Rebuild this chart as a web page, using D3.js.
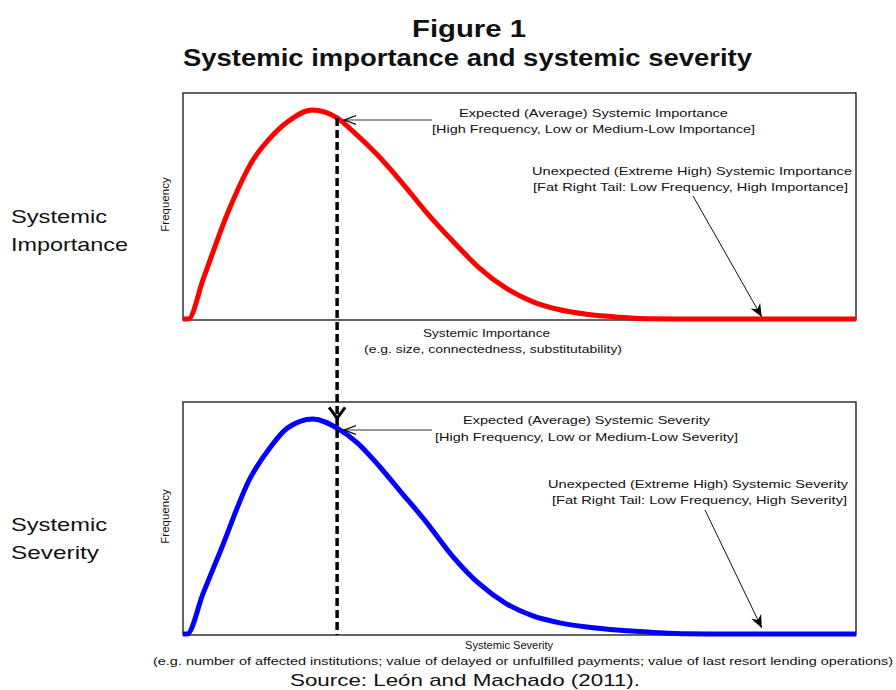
<!DOCTYPE html>
<html>
<head>
<meta charset="utf-8">
<script src="https://cdn.jsdelivr.net/npm/d3@7"></script>
<style>
  body { margin: 0; background: #fff; }
  svg { display: block; font-family: "Liberation Sans", Arial, sans-serif; }
</style>
</head>
<body>
<div id="chart"></div>
<script>
// Curve: x on a 0-100 scale, frequency 0-1 (share of panel height)
const importanceX    = [0, 0.8, 3.0, 6.7, 10.4, 12.9, 15.5, 19.2, 22.9, 25.3, 28.8, 32.4, 36, 40, 44, 48, 52, 56, 60, 65, 70, 75, 80, 100];
const importanceFreq = [0, 0, 0.18, 0.476, 0.705, 0.80, 0.872, 0.925, 0.89, 0.83, 0.73, 0.61, 0.48, 0.35, 0.23, 0.14, 0.08, 0.045, 0.025, 0.012, 0.005, 0.001, 0, 0];

const severityX    = [0, 0.6, 3.0, 5.5, 10.0, 12.9, 15.5, 19.3, 22.9, 25.9, 29.3, 32.2, 36, 40, 44, 48, 52, 56, 60, 65, 70, 75, 80, 85, 100];
const severityFreq = [0, 0, 0.18, 0.356, 0.674, 0.803, 0.888, 0.927, 0.888, 0.825, 0.72, 0.62, 0.49, 0.34, 0.22, 0.135, 0.082, 0.052, 0.034, 0.02, 0.011, 0.005, 0.002, 0, 0];

// expected value (mean) and the tail point that the arrows refer to
const expectedX = 22.9;
const tailX = 86;

const titleLines = ['Figure 1', 'Systemic importance and systemic severity'];
const importanceNotes = {
    expected: ['Expected (Average) Systemic Importance', '[High Frequency, Low or Medium-Low Importance]'],
    tail: ['Unexpected (Extreme High) Systemic Importance', '[Fat Right Tail: Low Frequency, High Importance]'],
    axis: ['Systemic Importance', '(e.g. size, connectedness, substitutability)'],
    side: ['Systemic', 'Importance']
};
const severityNotes = {
    expected: ['Expected (Average) Systemic Severity', '[High Frequency, Low or Medium-Low Severity]'],
    tail: ['Unexpected (Extreme High) Systemic Severity', '[Fat Right Tail: Low Frequency, High Severity]'],
    axis: ['Systemic Severity', '(e.g. number of affected institutions; value of delayed or unfulfilled payments; value of last resort lending operations)'],
    side: ['Systemic', 'Severity']
};
const sourceNote = 'Source: León and Machado (2011).';

const width = 896, height = 690;

const svg = d3.select('#chart')
    .append('svg')
    .attr('width', width)
    .attr('height', height);

const defs = svg.append('defs');
defs.append('marker')
    .attr('id', 'openHead')
    .attr('viewBox', '-12 -6 14 12')
    .attr('refX', 0).attr('refY', 0)
    .attr('markerWidth', 14).attr('markerHeight', 12)
    .attr('markerUnits', 'userSpaceOnUse')
    .attr('orient', 'auto')
    .append('path')
    .attr('d', 'M-12,-4.5 L0,0 L-12,4.5')
    .attr('fill', 'none')
    .attr('stroke', '#000')
    .attr('stroke-width', 1.2);
defs.append('marker')
    .attr('id', 'solidHead')
    .attr('viewBox', '-13 -6 14 12')
    .attr('refX', 0).attr('refY', 0)
    .attr('markerWidth', 14).attr('markerHeight', 12)
    .attr('markerUnits', 'userSpaceOnUse')
    .attr('orient', 'auto')
    .append('path')
    .attr('d', 'M0,0 L-13,-5.5 L-9,0 L-13,5.5 Z')
    .attr('fill', '#000');

const x = d3.scaleLinear().domain([0, 100]).range([183, 856]);
const yTop = d3.scaleLinear().domain([0, 1]).range([320, 93]);
const yBot = d3.scaleLinear().domain([0, 1]).range([635, 402]);

// helper: text stretched to the width it has in the picture
function label(txt, left, baseline, size, len, opts = {}) {
    return svg.append('text')
        .attr('x', left)
        .attr('y', baseline)
        .attr('font-size', size + 'px')
        .attr('font-weight', opts.bold ? 'bold' : 'normal')
        .attr('fill', '#111')
        .attr('textLength', len)
        .attr('lengthAdjust', 'spacingAndGlyphs')
        .text(txt);
}

// Title
label(titleLines[0], 412, 37, 23, 114, {bold: true});
label(titleLines[1], 183, 66, 23, 569, {bold: true});

function panel(y, xs, freqs, color, notes, pos) {
    // frame
    svg.append('rect')
        .attr('x', x(0))
        .attr('y', y(1))
        .attr('width', x(100) - x(0))
        .attr('height', y(0) - y(1))
        .attr('fill', 'none')
        .attr('stroke', '#111')
        .attr('stroke-width', 1.3);

    const pts = xs.map((v, i) => ({x: v, f: freqs[i]}));
    const line = d3.line()
        .x(d => x(d.x))
        .y(d => Math.min(y(d.f), y(0) - 1))
        .curve(d3.curveMonotoneX);

    svg.append('path')
        .datum(pts)
        .attr('d', line)
        .attr('fill', 'none')
        .attr('stroke', color)
        .attr('stroke-width', 5)
        .attr('stroke-linejoin', 'round');

    // expected-value arrow
    const fExp = freqs[xs.indexOf(expectedX)];
    svg.append('line')
        .attr('x1', x(37))
        .attr('x2', x(expectedX) + 7)
        .attr('y1', pos.expArrowY)
        .attr('y2', pos.expArrowY)
        .attr('stroke', '#333')
        .attr('stroke-width', 1)
        .attr('marker-end', 'url(#openHead)');

    label(notes.expected[0], pos.exp[0][0], pos.exp[0][1], 11.5, pos.exp[0][2]);
    label(notes.expected[1], pos.exp[1][0], pos.exp[1][1], 11.5, pos.exp[1][2]);

    // tail arrow
    svg.append('line')
        .attr('x1', pos.tailFrom[0])
        .attr('y1', pos.tailFrom[1])
        .attr('x2', x(tailX))
        .attr('y2', pos.tailTipY)
        .attr('stroke', '#111')
        .attr('stroke-width', 1)
        .attr('marker-end', 'url(#solidHead)');

    label(notes.tail[0], pos.tail[0][0], pos.tail[0][1], 11.5, pos.tail[0][2]);
    label(notes.tail[1], pos.tail[1][0], pos.tail[1][1], 11.5, pos.tail[1][2]);

    // x label
    label(notes.axis[0], pos.axis[0][0], pos.axis[0][1], 11.5, pos.axis[0][2]);
    label(notes.axis[1], pos.axis[1][0], pos.axis[1][1], 11.5, pos.axis[1][2]);

    // y label
    const cy = (y(0) + y(1)) / 2 - 2;
    svg.append('text')
        .attr('transform', `translate(169,${cy}) rotate(-90)`)
        .attr('text-anchor', 'middle')
        .attr('font-size', '11.5px')
        .attr('fill', '#111')
        .text('Frequency');

    // side label
    label(notes.side[0], 11, pos.side[0][1], 19, pos.side[0][2]);
    label(notes.side[1], 11, pos.side[1][1], 19, pos.side[1][2]);

    return fExp;
}

const fTop = panel(yTop, importanceX, importanceFreq, '#ff0000', importanceNotes, {
    expArrowY: 120,
    exp: [[459, 117, 269], [432, 133, 323]],
    tailFrom: [693, 196],
    tailTipY: 317,
    tail: [[532, 175, 320], [533, 191, 315]],
    axis: [[423, 337, 127], [364, 353, 258]],
    side: [[11, 223, 96], [11, 251, 117]]
});

const fBot = panel(yBot, severityX, severityFreq, '#0000ff', severityNotes, {
    expArrowY: 430,
    exp: [[463, 424, 247], [435, 441, 303]],
    tailFrom: [705, 510],
    tailTipY: 628,
    tail: [[548, 488, 300], [552, 504, 295]],
    axis: [[465, 649, 88], [153, 665, 740]],
    side: [[11, 531, 96], [11, 559, 88]]
});

// dashed link from the expected importance down to the severity panel
const xe = x(expectedX);
svg.append('line')
    .attr('x1', xe).attr('x2', xe)
    .attr('y1', yTop(fTop))
    .attr('y2', yBot(0))
    .attr('stroke', '#000')
    .attr('stroke-width', 3.5)
    .attr('stroke-dasharray', '8,4');

const tipY = yBot(0.93);
svg.append('path')
    .attr('d', `M${xe - 8},${tipY - 11} L${xe},${tipY} L${xe + 8},${tipY - 11}`)
    .attr('fill', 'none')
    .attr('stroke', '#000')
    .attr('stroke-width', 3);

// Source
label(sourceNote, 290, 686, 17, 350);
</script>
</body>
</html>
